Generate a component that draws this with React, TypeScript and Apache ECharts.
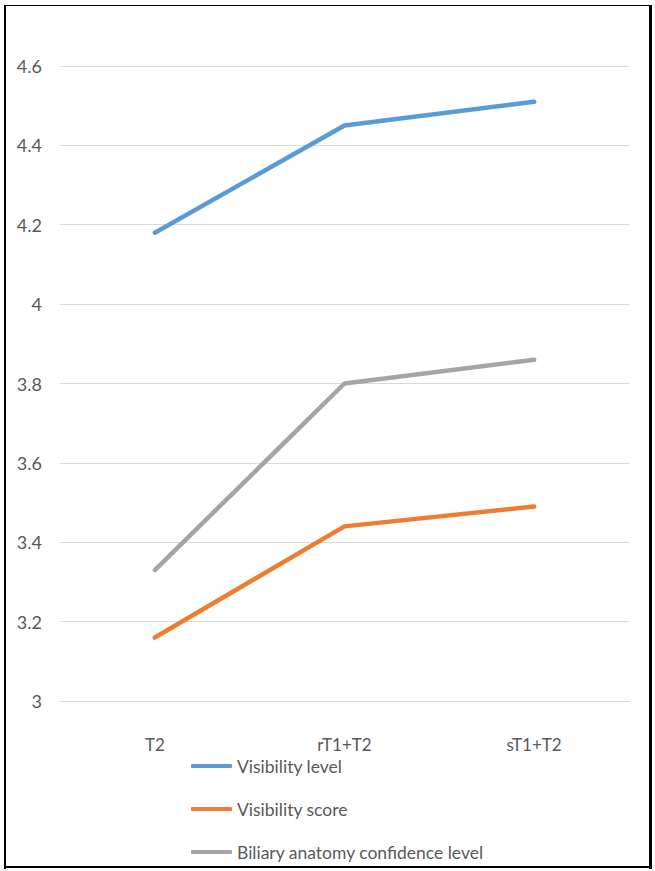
import React, { useEffect, useRef } from "react";
import * as echarts from "echarts";

const categories = ["T2", "rT1+T2", "sT1+T2"];
const visibilityLevel = [4.18, 4.45, 4.51];
const visibilityScore = [3.16, 3.44, 3.49];
const biliaryConfidence = [3.33, 3.8, 3.86];
const seriesNames = ["Visibility level", "Visibility score", "Biliary anatomy confidence level"];
const seriesColors = ["#5B9BD5", "#ED7D31", "#A5A5A5"];

const FONT = "Lato, 'Noto Sans', sans-serif";

export default function App() {
  const ref = useRef<HTMLDivElement>(null);
  useEffect(() => {
    if (!ref.current) return;
    const chart = echarts.init(ref.current, null, { renderer: "svg" });
    const values = [visibilityLevel, visibilityScore, biliaryConfidence];
    chart.setOption({
      animation: false,
      backgroundColor: "#ffffff",
      grid: { left: 60, right: 26, top: 66, bottom: 170, containLabel: false },
      xAxis: {
        type: "category",
        data: categories,
        boundaryGap: true,
        axisLine: { show: true, lineStyle: { color: "#D9D9D9", width: 1 } },
        axisTick: { show: false },
        axisLabel: { color: "#595959", fontSize: 17, lineHeight: 17, fontFamily: FONT, margin: 35 },
      },
      yAxis: {
        type: "value",
        min: 3,
        max: 4.6,
        interval: 0.2,
        axisLine: { show: false },
        axisTick: { show: false },
        splitLine: { lineStyle: { color: "#D9D9D9", width: 1 } },
        axisLabel: { color: "#595959", fontSize: 18, fontFamily: FONT, margin: 18 },
      },
      legend: {
        orient: "vertical",
        left: 191,
        top: 757,
        padding: 0,
        itemWidth: 41,
        itemHeight: 4,
        itemGap: 25,
        icon: "roundRect",
        textStyle: { color: "#595959", fontSize: 17.5, lineHeight: 17, fontFamily: FONT },
        data: seriesNames,
      },
      series: seriesNames.map((name, i) => ({
        name,
        type: "line",
        data: values[i],
        showSymbol: false,
        symbol: "none",
        lineStyle: { color: seriesColors[i], width: 4.5, cap: "round", join: "round" },
        itemStyle: { color: seriesColors[i] },
      })),
      graphic: [
        { type: "rect", shape: { x: 4, y: 5, width: 648, height: 1 }, style: { fill: "#000" } },
        { type: "rect", shape: { x: 4, y: 5, width: 2, height: 864 }, style: { fill: "#000" } },
        { type: "rect", shape: { x: 649, y: 5, width: 3, height: 864 }, style: { fill: "#000" } },
        { type: "rect", shape: { x: 4, y: 866, width: 648, height: 2 }, style: { fill: "#000" } },
      ],
    });
    return () => chart.dispose();
  }, []);
  return (
    <div
      ref={ref}
      style={{ position: "fixed", left: 0, top: 0, width: 655, height: 871 }}
    />
  );
}
